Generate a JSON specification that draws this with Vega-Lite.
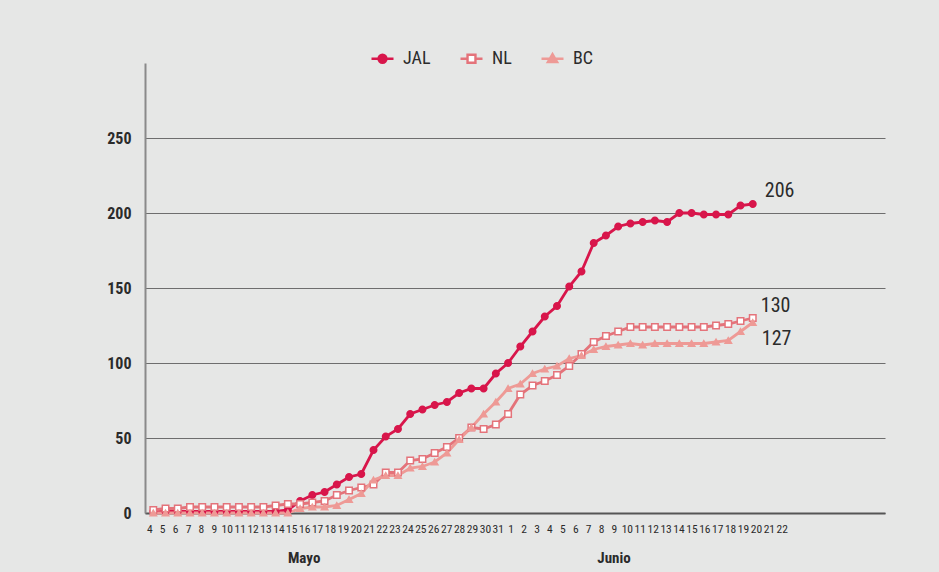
{
  "$schema": "https://vega.github.io/schema/vega-lite/v6.json",
  "width": 740,
  "height": 450,
  "autosize": {"type": "none"},
  "padding": {"left": 145, "top": 63, "right": 54, "bottom": 59},
  "background": "#e6e7e6",
  "config": {
    "view": {"stroke": null},
    "font": "Roboto Condensed, Liberation Sans Narrow, DejaVu Sans Condensed, Roboto, sans-serif",
    "legend": {
      "labelFont": "Roboto Condensed, Liberation Sans Narrow, DejaVu Sans Condensed, Roboto, sans-serif",
      "labelFontSize": 18,
      "labelColor": "#2b2b2b",
      "labelOffset": 8,
      "columnPadding": 24,
      "symbolSize": 484,
      "symbolStrokeWidth": 2.4,
      "padding": 0
    }
  },
  "datasets": {
    "casos": [
      {"fecha":"2020-05-04","serie":"JAL","valor":1},{"fecha":"2020-05-05","serie":"JAL","valor":1},{"fecha":"2020-05-06","serie":"JAL","valor":1},{"fecha":"2020-05-07","serie":"JAL","valor":1},{"fecha":"2020-05-08","serie":"JAL","valor":1},{"fecha":"2020-05-09","serie":"JAL","valor":1},{"fecha":"2020-05-10","serie":"JAL","valor":1},{"fecha":"2020-05-11","serie":"JAL","valor":1},{"fecha":"2020-05-12","serie":"JAL","valor":1},{"fecha":"2020-05-13","serie":"JAL","valor":1},{"fecha":"2020-05-14","serie":"JAL","valor":1},{"fecha":"2020-05-15","serie":"JAL","valor":2},{"fecha":"2020-05-16","serie":"JAL","valor":8},{"fecha":"2020-05-17","serie":"JAL","valor":12},{"fecha":"2020-05-18","serie":"JAL","valor":14},{"fecha":"2020-05-19","serie":"JAL","valor":19},{"fecha":"2020-05-20","serie":"JAL","valor":24},{"fecha":"2020-05-21","serie":"JAL","valor":26},{"fecha":"2020-05-22","serie":"JAL","valor":42},{"fecha":"2020-05-23","serie":"JAL","valor":51},{"fecha":"2020-05-24","serie":"JAL","valor":56},{"fecha":"2020-05-25","serie":"JAL","valor":66},{"fecha":"2020-05-26","serie":"JAL","valor":69},{"fecha":"2020-05-27","serie":"JAL","valor":72},{"fecha":"2020-05-28","serie":"JAL","valor":74},{"fecha":"2020-05-29","serie":"JAL","valor":80},{"fecha":"2020-05-30","serie":"JAL","valor":83},{"fecha":"2020-05-31","serie":"JAL","valor":83},{"fecha":"2020-06-01","serie":"JAL","valor":93},{"fecha":"2020-06-02","serie":"JAL","valor":100},{"fecha":"2020-06-03","serie":"JAL","valor":111},{"fecha":"2020-06-04","serie":"JAL","valor":121},{"fecha":"2020-06-05","serie":"JAL","valor":131},{"fecha":"2020-06-06","serie":"JAL","valor":138},{"fecha":"2020-06-07","serie":"JAL","valor":151},{"fecha":"2020-06-08","serie":"JAL","valor":161},{"fecha":"2020-06-09","serie":"JAL","valor":180},{"fecha":"2020-06-10","serie":"JAL","valor":185},{"fecha":"2020-06-11","serie":"JAL","valor":191},{"fecha":"2020-06-12","serie":"JAL","valor":193},{"fecha":"2020-06-13","serie":"JAL","valor":194},{"fecha":"2020-06-14","serie":"JAL","valor":195},{"fecha":"2020-06-15","serie":"JAL","valor":194},{"fecha":"2020-06-16","serie":"JAL","valor":200},{"fecha":"2020-06-17","serie":"JAL","valor":200},{"fecha":"2020-06-18","serie":"JAL","valor":199},{"fecha":"2020-06-19","serie":"JAL","valor":199},{"fecha":"2020-06-20","serie":"JAL","valor":199},{"fecha":"2020-06-21","serie":"JAL","valor":205},{"fecha":"2020-06-22","serie":"JAL","valor":206},
      {"fecha":"2020-05-04","serie":"NL","valor":2},{"fecha":"2020-05-05","serie":"NL","valor":3},{"fecha":"2020-05-06","serie":"NL","valor":3},{"fecha":"2020-05-07","serie":"NL","valor":4},{"fecha":"2020-05-08","serie":"NL","valor":4},{"fecha":"2020-05-09","serie":"NL","valor":4},{"fecha":"2020-05-10","serie":"NL","valor":4},{"fecha":"2020-05-11","serie":"NL","valor":4},{"fecha":"2020-05-12","serie":"NL","valor":4},{"fecha":"2020-05-13","serie":"NL","valor":4},{"fecha":"2020-05-14","serie":"NL","valor":5},{"fecha":"2020-05-15","serie":"NL","valor":6},{"fecha":"2020-05-16","serie":"NL","valor":6},{"fecha":"2020-05-17","serie":"NL","valor":7},{"fecha":"2020-05-18","serie":"NL","valor":8},{"fecha":"2020-05-19","serie":"NL","valor":12},{"fecha":"2020-05-20","serie":"NL","valor":15},{"fecha":"2020-05-21","serie":"NL","valor":17},{"fecha":"2020-05-22","serie":"NL","valor":19},{"fecha":"2020-05-23","serie":"NL","valor":27},{"fecha":"2020-05-24","serie":"NL","valor":27},{"fecha":"2020-05-25","serie":"NL","valor":35},{"fecha":"2020-05-26","serie":"NL","valor":36},{"fecha":"2020-05-27","serie":"NL","valor":40},{"fecha":"2020-05-28","serie":"NL","valor":44},{"fecha":"2020-05-29","serie":"NL","valor":50},{"fecha":"2020-05-30","serie":"NL","valor":57},{"fecha":"2020-05-31","serie":"NL","valor":56},{"fecha":"2020-06-01","serie":"NL","valor":59},{"fecha":"2020-06-02","serie":"NL","valor":66},{"fecha":"2020-06-03","serie":"NL","valor":79},{"fecha":"2020-06-04","serie":"NL","valor":85},{"fecha":"2020-06-05","serie":"NL","valor":88},{"fecha":"2020-06-06","serie":"NL","valor":92},{"fecha":"2020-06-07","serie":"NL","valor":98},{"fecha":"2020-06-08","serie":"NL","valor":106},{"fecha":"2020-06-09","serie":"NL","valor":114},{"fecha":"2020-06-10","serie":"NL","valor":118},{"fecha":"2020-06-11","serie":"NL","valor":121},{"fecha":"2020-06-12","serie":"NL","valor":124},{"fecha":"2020-06-13","serie":"NL","valor":124},{"fecha":"2020-06-14","serie":"NL","valor":124},{"fecha":"2020-06-15","serie":"NL","valor":124},{"fecha":"2020-06-16","serie":"NL","valor":124},{"fecha":"2020-06-17","serie":"NL","valor":124},{"fecha":"2020-06-18","serie":"NL","valor":124},{"fecha":"2020-06-19","serie":"NL","valor":125},{"fecha":"2020-06-20","serie":"NL","valor":126},{"fecha":"2020-06-21","serie":"NL","valor":128},{"fecha":"2020-06-22","serie":"NL","valor":130},
      {"fecha":"2020-05-04","serie":"BC","valor":0},{"fecha":"2020-05-05","serie":"BC","valor":0},{"fecha":"2020-05-06","serie":"BC","valor":0},{"fecha":"2020-05-07","serie":"BC","valor":0},{"fecha":"2020-05-08","serie":"BC","valor":0},{"fecha":"2020-05-09","serie":"BC","valor":0},{"fecha":"2020-05-10","serie":"BC","valor":0},{"fecha":"2020-05-11","serie":"BC","valor":0},{"fecha":"2020-05-12","serie":"BC","valor":0},{"fecha":"2020-05-13","serie":"BC","valor":0},{"fecha":"2020-05-14","serie":"BC","valor":0},{"fecha":"2020-05-15","serie":"BC","valor":0},{"fecha":"2020-05-16","serie":"BC","valor":3},{"fecha":"2020-05-17","serie":"BC","valor":4},{"fecha":"2020-05-18","serie":"BC","valor":4},{"fecha":"2020-05-19","serie":"BC","valor":5},{"fecha":"2020-05-20","serie":"BC","valor":9},{"fecha":"2020-05-21","serie":"BC","valor":13},{"fecha":"2020-05-22","serie":"BC","valor":22},{"fecha":"2020-05-23","serie":"BC","valor":25},{"fecha":"2020-05-24","serie":"BC","valor":25},{"fecha":"2020-05-25","serie":"BC","valor":30},{"fecha":"2020-05-26","serie":"BC","valor":31},{"fecha":"2020-05-27","serie":"BC","valor":34},{"fecha":"2020-05-28","serie":"BC","valor":40},{"fecha":"2020-05-29","serie":"BC","valor":49},{"fecha":"2020-05-30","serie":"BC","valor":57},{"fecha":"2020-05-31","serie":"BC","valor":66},{"fecha":"2020-06-01","serie":"BC","valor":74},{"fecha":"2020-06-02","serie":"BC","valor":83},{"fecha":"2020-06-03","serie":"BC","valor":86},{"fecha":"2020-06-04","serie":"BC","valor":93},{"fecha":"2020-06-05","serie":"BC","valor":96},{"fecha":"2020-06-06","serie":"BC","valor":98},{"fecha":"2020-06-07","serie":"BC","valor":103},{"fecha":"2020-06-08","serie":"BC","valor":105},{"fecha":"2020-06-09","serie":"BC","valor":109},{"fecha":"2020-06-10","serie":"BC","valor":111},{"fecha":"2020-06-11","serie":"BC","valor":112},{"fecha":"2020-06-12","serie":"BC","valor":113},{"fecha":"2020-06-13","serie":"BC","valor":112},{"fecha":"2020-06-14","serie":"BC","valor":113},{"fecha":"2020-06-15","serie":"BC","valor":113},{"fecha":"2020-06-16","serie":"BC","valor":113},{"fecha":"2020-06-17","serie":"BC","valor":113},{"fecha":"2020-06-18","serie":"BC","valor":113},{"fecha":"2020-06-19","serie":"BC","valor":114},{"fecha":"2020-06-20","serie":"BC","valor":115},{"fecha":"2020-06-21","serie":"BC","valor":121},{"fecha":"2020-06-22","serie":"BC","valor":127}
    ],
    "meses": [
      {"mes": "Mayo", "fecha": "2020-05-16"},
      {"mes": "Junio", "fecha": "2020-06-09"}
    ]
  },
  "layer": [
    {
      "data": {"name": "casos"},
      "encoding": {
        "x": {
          "field": "fecha",
          "type": "temporal",
          "scale": {
            "type": "utc",
            "domain": [
              {"year": 2020, "month": 5, "date": 3, "hours": 7, "minutes": 43, "utc": true},
              {"year": 2020, "month": 7, "date": 2, "hours": 19, "minutes": 26, "utc": true}
            ]
          },
          "axis": null
        },
        "y": {
          "field": "valor",
          "type": "quantitative",
          "scale": {"domain": [0, 300], "nice": false, "zero": true},
          "axis": {
            "values": [0, 50, 100, 150, 200, 250],
            "title": null,
            "grid": true,
            "gridColor": "#6e6e6e",
            "gridWidth": 1.2,
            "domain": true,
            "domainColor": "#8a8a8a",
            "domainWidth": 2,
            "ticks": false,
            "labelFontWeight": "bold",
            "labelFontSize": 16,
            "labelColor": "#2b2b2b",
            "labelPadding": 14
          }
        }
      },
      "layer": [
        {
          "mark": {"type": "line", "strokeWidth": 2.8},
          "encoding": {
            "color": {
              "field": "serie",
              "type": "nominal",
              "scale": {"domain": ["JAL", "NL", "BC"], "range": ["#d8164b", "#e4737a", "#ee9a96"]},
              "legend": null
            }
          }
        },
        {
          "mark": {"type": "point", "filled": true, "opacity": 1, "size": 42, "strokeWidth": 1.5},
          "encoding": {
            "shape": {
              "field": "serie",
              "type": "nominal",
              "scale": {"domain": ["JAL", "NL", "BC"], "range": ["circle", "square", "triangle-up"]},
              "legend": null
            },
            "fill": {
              "field": "serie",
              "type": "nominal",
              "scale": {"domain": ["JAL", "NL", "BC"], "range": ["#d8164b", "#ffffff", "#ee9a96"]},
              "legend": null
            },
            "stroke": {
              "field": "serie",
              "type": "nominal",
              "scale": {"domain": ["JAL", "NL", "BC"], "range": ["#d8164b", "#e4737a", "#ee9a96"]},
              "legend": null
            }
          }
        },
        {
          "transform": [{"filter": {"and": [{"field": "serie", "equal": "JAL"}, {"field": "fecha", "equal": {"year": 2020, "month": 6, "date": 22, "utc": true}}]}}],
          "mark": {"type": "text", "align": "left", "baseline": "middle", "dx": 12, "dy": -13, "fontSize": 20, "color": "#2b2b2b"},
          "encoding": {"text": {"field": "valor", "type": "quantitative"}}
        },
        {
          "transform": [{"filter": {"and": [{"field": "serie", "equal": "NL"}, {"field": "fecha", "equal": {"year": 2020, "month": 6, "date": 22, "utc": true}}]}}],
          "mark": {"type": "text", "align": "left", "baseline": "middle", "dx": 8, "dy": -12, "fontSize": 20, "color": "#2b2b2b"},
          "encoding": {"text": {"field": "valor", "type": "quantitative"}}
        },
        {
          "transform": [{"filter": {"and": [{"field": "serie", "equal": "BC"}, {"field": "fecha", "equal": {"year": 2020, "month": 6, "date": 22, "utc": true}}]}}],
          "mark": {"type": "text", "align": "left", "baseline": "middle", "dx": 9, "dy": 16, "fontSize": 20, "color": "#2b2b2b"},
          "encoding": {"text": {"field": "valor", "type": "quantitative"}}
        },
        {
          "transform": [{"filter": "false"}],
          "mark": {"type": "point", "filled": true, "opacity": 1, "size": 484},
          "encoding": {
            "shape": {
              "field": "serie",
              "type": "nominal",
              "scale": {
                "domain": ["JAL", "NL", "BC"],
                "range": [
                  "M-1,0H1M0.36,0A0.36,0.36,0,1,1,-0.36,0A0.36,0.36,0,1,1,0.36,0Z",
                  "M-1,0H-0.36M0.36,0H1M-0.36,-0.36H0.36V0.36H-0.36Z",
                  "M-1,0H1M0,-0.42L0.42,0.3H-0.42Z"
                ]
              },
              "legend": {"title": null, "orient": "none", "legendX": 225, "legendY": -17, "direction": "horizontal"}
            },
            "fill": {
              "field": "serie",
              "type": "nominal",
              "scale": {"domain": ["JAL", "NL", "BC"], "range": ["#d8164b", "#ffffff", "#ee9a96"]},
              "legend": {"title": null, "orient": "none", "legendX": 225, "legendY": -17, "direction": "horizontal"}
            },
            "stroke": {
              "field": "serie",
              "type": "nominal",
              "scale": {"domain": ["JAL", "NL", "BC"], "range": ["#d8164b", "#e4737a", "#ee9a96"]},
              "legend": {"title": null, "orient": "none", "legendX": 225, "legendY": -17, "direction": "horizontal"}
            }
          }
        }
      ],
      "resolve": {"scale": {"shape": "independent", "fill": "independent", "stroke": "independent"}}
    },
    {
      "data": {"name": "meses"},
      "mark": {"type": "text", "fontWeight": "bold", "fontSize": 15, "color": "#2b2b2b", "align": "center", "baseline": "middle"},
      "encoding": {
        "x": {
          "field": "fecha",
          "type": "temporal",
          "scale": {
            "type": "utc",
            "domain": [
              {"year": 2020, "month": 5, "date": 3, "hours": 16, "utc": true},
              {"year": 2020, "month": 6, "date": 30, "utc": true}
            ]
          },
          "axis": {
            "orient": "bottom",
            "title": null,
            "tickCount": {"interval": "day", "step": 1},
            "labelExpr": "datum.value > utc(2020,5,22,12) ? '' : utcFormat(datum.value, '%-d')",
            "labelOverlap": false,
            "labelFlush": false,
            "labelBound": false,
            "labelAngle": 0,
            "ticks": false,
            "grid": false,
            "domain": true,
            "domainColor": "#555555",
            "domainWidth": 2,
            "labelFontSize": 11.5,
            "labelColor": "#2b2b2b",
            "labelPadding": 10
          }
        },
        "y": {"datum": -30, "axis": null},
        "text": {"field": "mes", "type": "nominal"}
      }
    }
  ],
  "resolve": {"scale": {"x": "independent"}, "axis": {"x": "independent", "y": "independent"}}
}
